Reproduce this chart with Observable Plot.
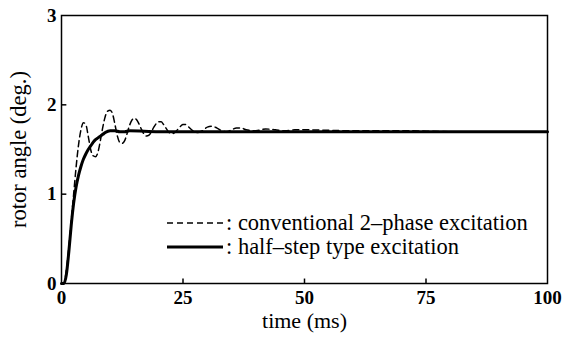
<!DOCTYPE html>
<html>
<head>
<meta charset="utf-8">
<script src="https://cdn.jsdelivr.net/npm/d3@7"></script>
<script src="https://cdn.jsdelivr.net/npm/@observablehq/plot@0.6"></script>
<style>
  html, body { margin: 0; padding: 0; background: #fff; }
  #wrap { position: relative; width: 576px; height: 338px; font-family: "Liberation Serif", "Times New Roman", serif; }
  #legend { position: absolute; left: 167px; top: 211px; font-size: 22.5px; color: #000; line-height: 24px; }
  #legend .row { display: flex; align-items: center; white-space: nowrap; }
  #legend svg { display: block; margin-right: 3px; }
</style>
</head>
<body>
<div id="wrap"></div>
<script>
// time (ms) samples and rotor angle (deg.) for both excitation methods
const timeConv = [0,0.5,1,1.5,2,2.5,3,3.5,4,4.5,5,5.5,6,6.5,7,7.5,8,8.5,9,9.5,10,10.5,11,11.5,12,12.5,13,13.5,14,14.5,15,15.5,16,16.5,17,17.5,18,18.5,19,19.5,20,20.5,21,21.5,22,22.5,23,23.5,24,24.5,25,25.5,26,27,28,29,30,31,32,33,34,35,36,37,38,40,42,44,46,48,50,60,70,80,90,100];
const angleConv = [0,0,0.15,0.4,0.7,1.0,1.3,1.55,1.72,1.8,1.78,1.65,1.5,1.43,1.42,1.47,1.6,1.75,1.87,1.93,1.94,1.9,1.78,1.65,1.58,1.57,1.6,1.68,1.77,1.83,1.85,1.83,1.78,1.72,1.67,1.65,1.66,1.7,1.75,1.79,1.81,1.81,1.78,1.74,1.7,1.68,1.68,1.7,1.73,1.76,1.78,1.78,1.76,1.71,1.69,1.71,1.75,1.76,1.74,1.71,1.7,1.72,1.74,1.74,1.72,1.71,1.73,1.72,1.71,1.72,1.72,1.71,1.71,1.7,1.7,1.7];
const timeHalf = [0,0.5,1,1.5,2,2.5,3,3.5,4,4.5,5,5.5,6,6.5,7,7.5,8,8.5,9,10,11,12,13,14,20,30,40,50,60,70,80,90,100];
const angleHalf = [0,0,0.1,0.35,0.65,0.9,1.08,1.21,1.31,1.39,1.45,1.5,1.54,1.58,1.61,1.63,1.65,1.67,1.69,1.71,1.71,1.7,1.7,1.71,1.7,1.7,1.7,1.7,1.7,1.7,1.7,1.7,1.7];
const xTicks = [0,25,50,75,100];
const yTicks = [0,1,2,3];
const xInner = [25,50,75];
const yInner = [1,2];
const legendLabels = [": conventional 2\u2013phase excitation", ": half\u2013step type excitation"];
const xLabel = "time (ms)";
const yLabel = "rotor angle (deg.)";

const conv = timeConv.map((t,i) => ({t, a: angleConv[i]}));
const half = timeHalf.map((t,i) => ({t, a: angleHalf[i]}));

const chart = Plot.plot({
  width: 576, height: 338,
  marginLeft: 61, marginRight: 29, marginTop: 15, marginBottom: 55,
  style: {fontFamily: '"Liberation Serif", "Times New Roman", serif', fontSize: "19px", color: "#000", background: "#fff"},
  x: {domain: [0,100]},
  y: {domain: [0,3]},
  marks: [
    Plot.frame({stroke: "#000", strokeWidth: 1.5}),
    Plot.axisX(xTicks, {tickSize: 0, tickPadding: 7, tickFormat: d3.format("d"), fontSize: 19, fontWeight: "bold", label: null}),
    Plot.axisX({ticks: [], tickSize: 0, label: xLabel, labelAnchor: "center", labelArrow: "none", labelOffset: 44, fontSize: 22}),
    Plot.axisY(yTicks, {tickSize: 0, tickPadding: 5, tickFormat: d3.format("d"), fontSize: 19, fontWeight: "bold", label: null}),
    Plot.axisY({ticks: [], tickSize: 0, label: yLabel, labelAnchor: "center", labelArrow: "none", labelOffset: 51, fontSize: 22.5}),
    Plot.ruleX(xInner, {x: d => d, y1: 0, y2: 0.05, stroke: "#000", strokeWidth: 1.5}),
    Plot.ruleY(yInner, {y: d => d, x1: 0, x2: 1.1, stroke: "#000", strokeWidth: 1.5}),
    Plot.line(conv, {x: "t", y: "a", stroke: "#000", strokeWidth: 1.5, strokeDasharray: "6,4", curve: "monotone-x"}),
    Plot.line(half, {x: "t", y: "a", stroke: "#000", strokeWidth: 3, curve: "monotone-x"})
  ]
});
const wrap = document.getElementById("wrap");
wrap.appendChild(chart);

const legend = document.createElement("div");
legend.id = "legend";
const styles = [{dash: "6,4", w: 1.5}, {dash: null, w: 3}];
legendLabels.forEach((lab, i) => {
  const row = document.createElement("div");
  row.className = "row";
  const s = d3.create("svg").attr("width", 56).attr("height", 24);
  s.append("line").attr("x1", 0).attr("x2", 56).attr("y1", 12).attr("y2", 12)
    .attr("stroke", "#000").attr("stroke-width", styles[i].w)
    .attr("stroke-dasharray", styles[i].dash);
  row.appendChild(s.node());
  const sp = document.createElement("span");
  sp.textContent = lab;
  row.appendChild(sp);
  legend.appendChild(row);
});
wrap.appendChild(legend);
</script>
</body>
</html>
